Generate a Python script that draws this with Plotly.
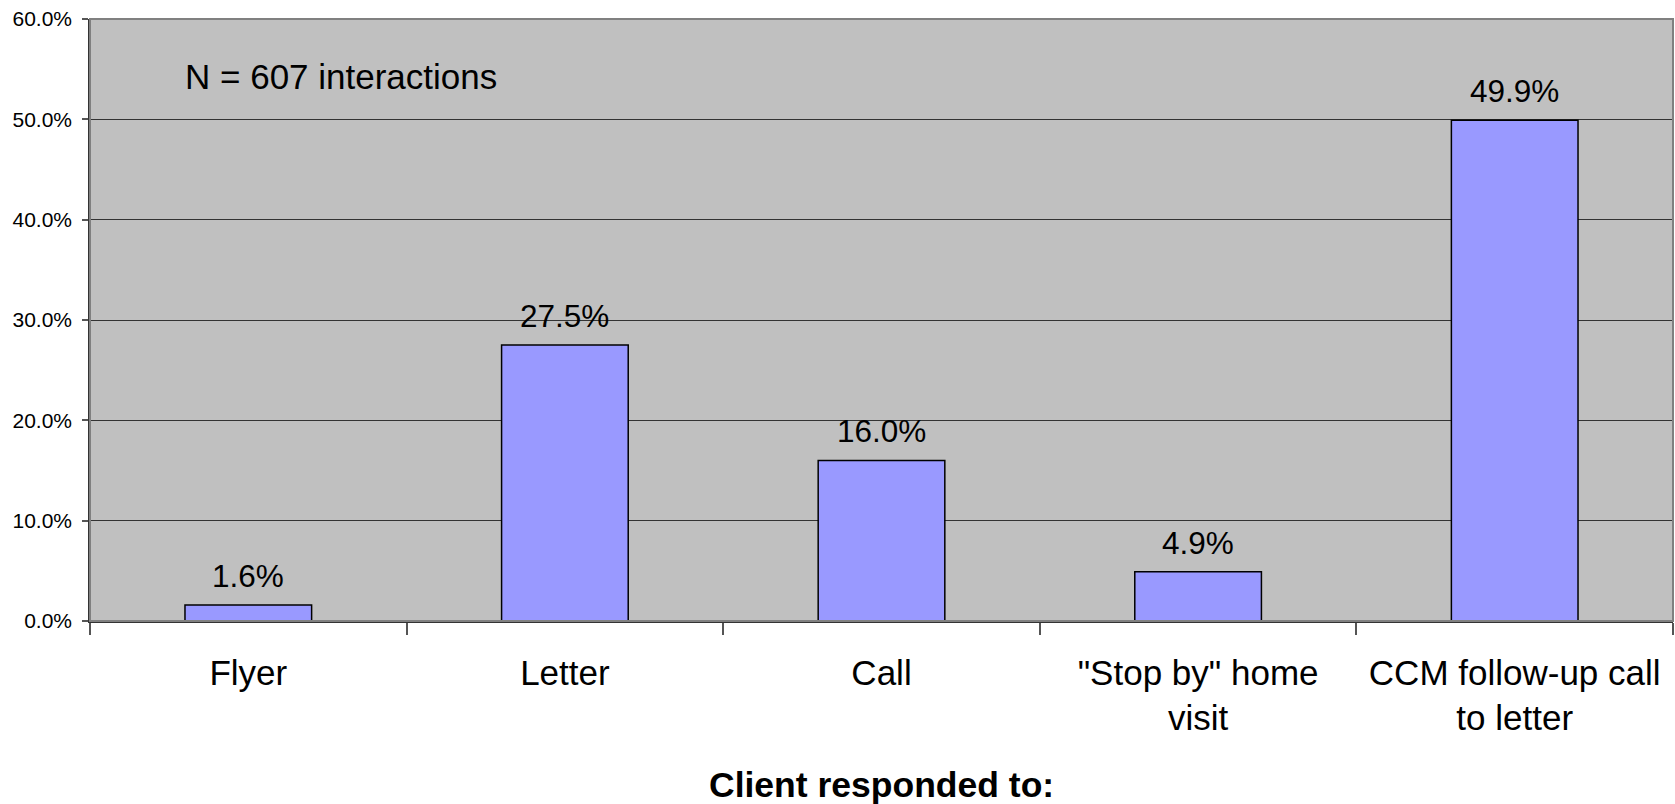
import plotly.graph_objects as go

categories = ["Flyer", "Letter", "Call", "\"Stop by\" home<br>visit", "CCM follow-up call<br>to letter"]
values = [1.6, 27.5, 16.0, 4.9, 49.9]
labels = ["1.6%", "27.5%", "16.0%", "4.9%", "49.9%"]
ytick_vals = [0, 10, 20, 30, 40, 50, 60]
ytick_text = ["0.0%", "10.0%", "20.0%", "30.0%", "40.0%", "50.0%", "60.0%"]

FONT = "Arial, Liberation Sans, sans-serif"

fig = go.Figure()
fig.add_trace(go.Bar(
    x=categories, y=values,
    marker=dict(color="#9999FF", line=dict(color="black", width=1.5)),
    width=0.4,
    hoverinfo="skip",
))

for c, v, t in zip(categories, values, labels):
    fig.add_annotation(x=c, y=v, text=t, showarrow=False, xref="x", yref="y",
                       yanchor="bottom", yshift=9,
                       font=dict(family=FONT, size=31.5, color="black"))

fig.add_annotation(x=0.0588, y=0.905, xref="paper", yref="paper", text="N = 607 interactions",
                   showarrow=False, xanchor="left", yanchor="middle",
                   font=dict(family=FONT, size=35, color="black"))
fig.add_annotation(x=0.5, y=-0.272, xref="paper", yref="paper", text="<b>Client responded to:</b>",
                   showarrow=False, xanchor="center", yanchor="middle",
                   font=dict(family=FONT, size=35.5, color="black"))

fig.add_shape(type="rect", xref="paper", yref="paper", x0=0, x1=1, y0=0, y1=1,
              line=dict(color="#808080", width=2), layer="above")

fig.update_layout(
    width=1675, height=804,
    margin=dict(l=90, r=2, t=19, b=183, autoexpand=False),
    paper_bgcolor="white", plot_bgcolor="#C0C0C0",
    showlegend=False,
    bargap=0.6,
    font=dict(family=FONT, color="black"),
)
fig.update_xaxes(
    type="category", tickson="boundaries", ticks="outside", ticklen=12, tickcolor="#555555",
    tickwidth=1.5, showgrid=False, showline=True, linecolor="#333333", linewidth=1.5,
    tickfont=dict(family=FONT, size=35, color="black"), automargin=False,
    ticklabelstandoff=20,
)
fig.update_yaxes(
    range=[0, 60], tickvals=ytick_vals, ticktext=ytick_text, ticks="outside", ticklen=6,
    tickcolor="#555555", tickwidth=1.5, showgrid=True, gridcolor="#333333", gridwidth=1,
    showline=True, linecolor="#333333", linewidth=1.5, zeroline=False,
    tickfont=dict(family=FONT, size=21, color="black"), automargin=False,
    ticklabelstandoff=6,
)

fig.write_html("out.html", config={"displayModeBar": False},
               post_script="document.body.style.margin='0';document.body.style.overflow='hidden';")
